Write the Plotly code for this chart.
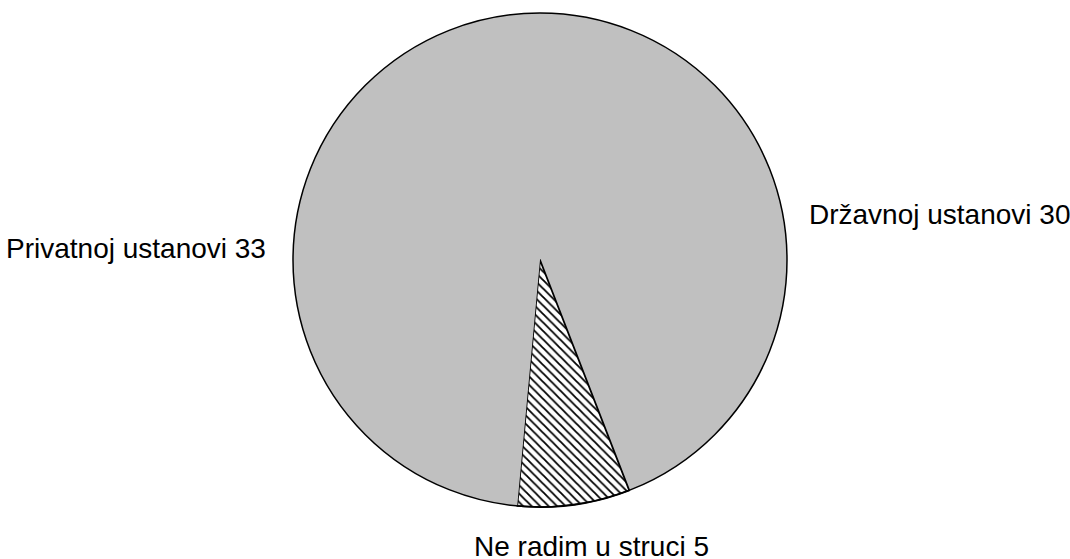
import plotly.graph_objects as go

labels = ["Državnoj ustanovi", "Ne radim u struci", "Privatnoj ustanovi"]
values = [30, 5, 33]
colors = ["#c0c0c0", "#ffffff", "#c0c0c0"]
patterns = ["", "\\", ""]

W, H = 1070, 559
cx, cy, r = 540, 260, 247

fig = go.Figure(go.Pie(
    labels=labels, values=values, sort=False, direction="clockwise", rotation=0,
    textinfo="none", hoverinfo="label+value",
    marker=dict(colors=colors,
                line=dict(color="black", width=[0, 1.8, 0]),
                pattern=dict(shape=patterns, fgcolor="black", bgcolor="white",
                             size=6, solidity=0.3)),
    domain=dict(x=[(cx - r) / W, (cx + r) / W], y=[(H - cy - r) / H, (H - cy + r) / H]),
    showlegend=False,
))

fig.add_shape(type="circle", xref="paper", yref="paper",
              x0=(cx - r) / W, x1=(cx + r) / W, y0=(H - cy - r) / H, y1=(H - cy + r) / H,
              line=dict(color="black", width=1.5), layer="above")

font = dict(family="Liberation Sans, Arial, sans-serif", size=28, color="black")
ann_pos = [(807, 215, "left"), (591, 546, "center"), (268, 248, "right")]
for (x, y, anc), lab, v in zip(ann_pos, labels, values):
    fig.add_annotation(x=x / W, y=1 - y / H, xref="paper", yref="paper",
                       text=f"{lab} {v}", showarrow=False, xanchor=anc, yanchor="middle",
                       font=font)

fig.update_layout(width=W, height=H, margin=dict(l=0, r=0, t=0, b=0),
                  paper_bgcolor="white", plot_bgcolor="white")
fig.write_html("out.html", config={"displayModeBar": False},
               post_script="document.body.style.margin='0';document.body.style.overflow='hidden';")
